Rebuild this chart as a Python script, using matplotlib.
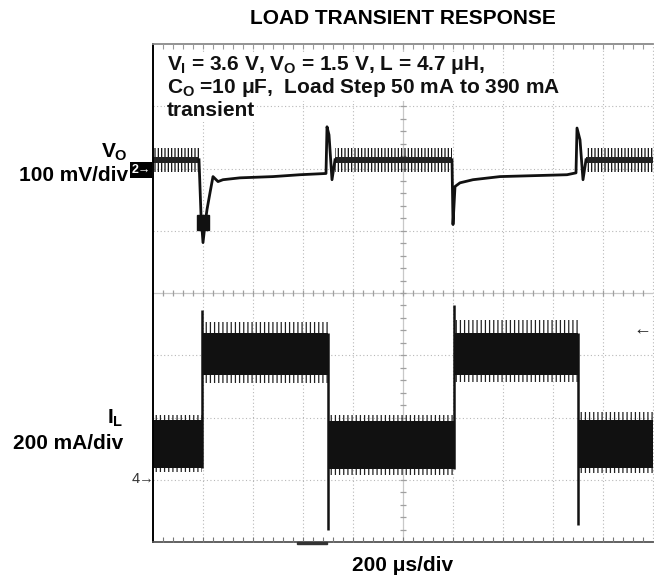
import matplotlib
matplotlib.use('Agg')
import matplotlib.pyplot as plt
from matplotlib.patches import Rectangle

plt.rcParams['font.family'] = ['Liberation Sans', 'DejaVu Sans']
plt.rcParams['mathtext.fontset'] = 'custom'
plt.rcParams['mathtext.rm'] = 'Liberation Sans:bold'
plt.rcParams['mathtext.it'] = 'Liberation Sans:bold'
plt.rcParams['mathtext.bf'] = 'Liberation Sans:bold'
plt.rcParams['hatch.linewidth'] = 0.9

# ---------------- data ----------------
TIME_PER_DIV = 200.0   # us / div
VO_PER_DIV = 100.0     # mV / div
IL_PER_DIV = 200.0     # mA / div
CH2_POS = 5.98         # div (Vo reference marker)
CH4_POS = 1.0          # div (IL reference marker)

# Vo: light-load (PFM ripple) stretches, mV relative to marker
vo_ripple_start = [0, 728, 1732]
vo_ripple_end = [184, 1196, 2000]
vo_ripple_low = [-3, -3, -3]
vo_ripple_high = [35, 35, 35]

# Vo: load step up -> heavy load -> load step down
vo_step1_t = [184, 192, 200, 208, 216, 228, 240, 260, 280, 348, 480, 588, 692, 696, 704, 716, 728]
vo_step1_mv = [16, -72, -117, -88, -64, -37, -11, -19, -16, -13, -11, -8, -6, 69, 56, -16, 16]
vo_step2_t = [1196, 1200, 1208, 1228, 1280, 1388, 1656, 1692, 1696, 1708, 1720, 1732]
vo_step2_mv = [16, -88, -27, -21, -16, -11, -8, -5, 67, 48, -16, 16]

# Inductor current, mA relative to marker
il_seg_start = [0, 194, 700, 1202, 1700]
il_seg_end = [194, 700, 1202, 1700, 2000]
il_core_low = [39, 337, 35, 337, 39]
il_core_high = [193, 472, 190, 472, 193]
il_ripple_low = [26, 312, 16, 315, 22]
il_ripple_high = [209, 508, 209, 514, 218]
il_edge_t = [194, 700, 1202, 1700]
il_edge_peak = [546, -161, 562, -145]

title = "LOAD TRANSIENT RESPONSE"
note_lines = [r"$V_I$ = 3.6 V, $V_O$ = 1.5 V, L = 4.7 μH,",
              r"$C_O$ =10 μF,  Load Step 50 mA to 390 mA",
              "transient"]
vo_label = [r"$V_O$", "100 mV/div"]
il_label = [r"$I_L$", "200 mA/div"]
time_label = "200 μs/div"

# ---------------- figure ----------------
W, H = 654, 580
fig = plt.figure(figsize=(W / 100, H / 100), dpi=100)
fig.patch.set_facecolor('white')
ax = fig.add_axes([153 / W, 38 / H, 500 / W, 498 / H])
ax.set_xlim(0, 10)
ax.set_ylim(0, 8)
ax.axis('off')

def fx(px):
    return px / W

def fy(py):
    return 1 - py / H

def tdiv(t):
    return [v / TIME_PER_DIV for v in t]

def vdiv(mv):
    return [CH2_POS + v / VO_PER_DIV for v in mv]

def idiv(ma):
    return [CH4_POS + v / IL_PER_DIV for v in ma]

# graticule
grid_c = '#b8b8b8'
for i in range(1, 10):
    if i != 5:
        ax.plot([i, i], [0, 8], color=grid_c, lw=0.8, ls=(0, (1, 2.2)), zorder=1)
for j in range(1, 8):
    if j != 4:
        ax.plot([0, 10], [j, j], color=grid_c, lw=0.8, ls=(0, (1, 2.2)), zorder=1)
ax.plot([0, 10], [4, 4], color='#c8c8c8', lw=0.9, zorder=1)
ax.plot([5, 5], [0, 8], color='#c8c8c8', lw=0.9, zorder=1)
minor_x = [k * 0.2 for k in range(1, 50)]
minor_y = [k * 0.2 for k in range(1, 40)]
ax.plot(minor_x, [4] * len(minor_x), ls='none', marker='|', ms=5, mew=0.9, color='#a0a0a0', zorder=1)
ax.plot([5] * len(minor_y), minor_y, ls='none', marker='_', ms=5, mew=0.9, color='#a0a0a0', zorder=1)
# borders
ax.plot([0, 0], [0, 8], color='black', lw=1.4, zorder=5, clip_on=False)
ax.plot([0, 10], [0, 0], color='#555555', lw=1.3, zorder=5, clip_on=False)
ax.plot([0, 10], [8, 8], color='#8a8a8a', lw=1.3, zorder=5, clip_on=False)
ax.plot([10, 10], [0, 8], color=grid_c, lw=0.8, ls=(0, (1, 2.2)), zorder=1, clip_on=False)
ax.plot(minor_x, [0.04] * len(minor_x), ls='none', marker='|', ms=4, mew=0.8, color='#777777', zorder=5)
ax.plot(minor_x, [7.96] * len(minor_x), ls='none', marker='|', ms=4, mew=0.8, color='#999999', zorder=5)

# Vo trace
for s, e, lo, hi in zip(vo_ripple_start, vo_ripple_end, vo_ripple_low, vo_ripple_high):
    xs = tdiv([s, e])
    ax.fill_between(xs, vdiv([lo, lo]), vdiv([hi, hi]), facecolor='none', edgecolor='#111111',
                    hatch='|||||', lw=0, zorder=3)
    mid = (lo + hi) / 2
    ax.fill_between(xs, vdiv([mid - 5, mid - 5]), vdiv([mid + 5, mid + 5]), color='#222222', lw=0, zorder=3)
ax.plot(tdiv(vo_step1_t), vdiv(vo_step1_mv), color='#111111', lw=2.0, zorder=4)
ax.plot(tdiv(vo_step2_t), vdiv(vo_step2_mv), color='#111111', lw=2.0, zorder=4)
ax.add_patch(Rectangle((0.88, 5.01), 0.24, 0.24, color='#111111', zorder=4))

# IL trace
for s, e, cl, ch, rl, rh in zip(il_seg_start, il_seg_end, il_core_low, il_core_high,
                                il_ripple_low, il_ripple_high):
    xs = tdiv([s, e])
    ax.fill_between(xs, idiv([rl, rl]), idiv([rh, rh]), facecolor='none', edgecolor='#222222',
                    hatch='||||', lw=0, zorder=3)
    ax.fill_between(xs, idiv([cl, cl]), idiv([ch, ch]), color='#111111', lw=0, zorder=3)
for k, (t, pk) in enumerate(zip(il_edge_t, il_edge_peak)):
    vals = [pk, il_core_low[k], il_core_high[k], il_core_low[k + 1], il_core_high[k + 1]]
    ax.vlines(tdiv([t]), idiv([min(vals)]), idiv([max(vals)]), color='#111111', lw=1.8, zorder=4)

# channel markers
fig.text(fx(141), fy(170), "2→", color='white', fontsize=9, fontweight='bold',
         ha='center', va='center', bbox=dict(facecolor='black', edgecolor='none', pad=1.3))
fig.text(fx(143), fy(479), "4→", color='#333333', fontsize=10.5, ha='center', va='center')
fig.text(fx(651), fy(330), "←", color='#222222', fontsize=13, fontweight='bold', ha='right', va='center')
fig.patches.append(Rectangle((fx(297), fy(544)), 30 / W, 2 / H, color='#333333',
                             transform=fig.transFigure, figure=fig))

# texts
FS = 15
fig.text(fx(403), fy(24), title, fontsize=FS, fontweight='bold', ha='center', va='baseline')
for k, line in enumerate(note_lines):
    fig.text(fx(167), fy(70 + 23 * k), line, fontsize=FS, fontweight='bold', ha='left',
             va='baseline', color='#111111', zorder=10,
             bbox=dict(facecolor='white', edgecolor='none', pad=1.5))
fig.text(fx(128), fy(158), vo_label[0], fontsize=FS, fontweight='bold', ha='right', va='baseline')
fig.text(fx(128), fy(181), vo_label[1], fontsize=FS, fontweight='bold', ha='right', va='baseline')
fig.text(fx(123), fy(424), il_label[0], fontsize=FS, fontweight='bold', ha='right', va='baseline')
fig.text(fx(123), fy(449), il_label[1], fontsize=FS, fontweight='bold', ha='right', va='baseline')
fig.text(fx(403), fy(571), time_label, fontsize=FS, fontweight='bold', ha='center', va='baseline')

fig.savefig('out.png', dpi=100, facecolor='white')
